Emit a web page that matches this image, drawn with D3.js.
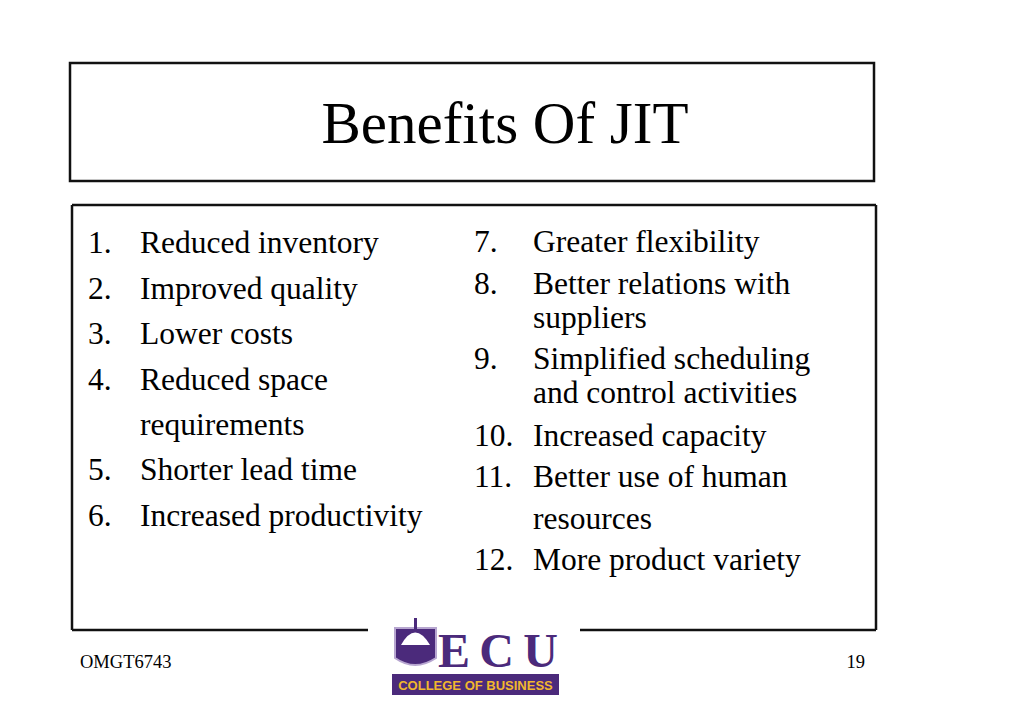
<!DOCTYPE html>
<html><head><meta charset="utf-8">
<script src="https://cdn.jsdelivr.net/npm/d3@7"></script>
<style>body{margin:0;background:#fff}svg{display:block}</style>
</head><body>
<script>
const title = "Benefits Of JIT";
const leftNums = ["1.","2.","3.","4.","","5.","6."];
const leftItems = ["Reduced inventory","Improved quality","Lower costs","Reduced space","requirements","Shorter lead time","Increased productivity"];
const leftY = [243,289,334,380,425,470,516];
const rightNums = ["7.","8.","","9.","","10.","11.","","12."];
const rightItems = ["Greater flexibility","Better relations with","suppliers","Simplified scheduling","and control activities","Increased capacity","Better use of human","resources","More product variety"];
const rightY = [242,284,318,359,393,436,477,519,560];
const footerLeft = "OMGT6743", pageNum = "19";

const svg = d3.select("body").append("svg").attr("width",1024).attr("height",709);
const serif = "'Liberation Serif','Times New Roman',serif";
svg.append("rect").attr("x",70).attr("y",63).attr("width",804).attr("height",118).attr("fill","none").attr("stroke","#111").attr("stroke-width",2.5);
svg.append("text").attr("x",505).attr("y",143).attr("text-anchor","middle").attr("font-family",serif).attr("font-size",59).attr("fill","#000").text(title);
const g = svg.append("g").attr("stroke","#111").attr("stroke-width",2.5).attr("fill","none");
g.append("path").attr("d","M72,205 H876 M72,205 V630 M876,205 V630 M72,630 H368 M580,630 H876");

function list(nums, items, ys, xn, xi){
  const t = svg.append("g").attr("font-family",serif).attr("font-size",31.5).attr("fill","#000");
  t.selectAll(".n").data(nums).join("text").attr("x",xn).attr("y",(d,i)=>ys[i]+10).text(d=>d);
  t.selectAll(".i").data(items).join("text").attr("x",xi).attr("y",(d,i)=>ys[i]+10).text(d=>d);
}
list(leftNums,leftItems,leftY,88,140);
list(rightNums,rightItems,rightY,474,533);

svg.append("text").attr("x",80).attr("y",668).attr("font-family",serif).attr("font-size",18.5).text(footerLeft);
svg.append("text").attr("x",865).attr("y",668).attr("text-anchor","end").attr("font-family",serif).attr("font-size",18.5).text(pageNum);

const purple="#4b2a7b", gold="#f1b82d";
const L = svg.append("g");
L.append("path").attr("d","M395,628 H436 V658 Q415,672 395,658 Z").attr("fill",purple).attr("stroke","#b7a6d0").attr("stroke-width",2);
L.append("path").attr("d","M401,645 Q415,620 430,645 Z").attr("fill","#fff");
L.append("line").attr("x1",415.5).attr("y1",618).attr("x2",415.5).attr("y2",630).attr("stroke",purple).attr("stroke-width",3);
L.append("text").attr("x",438).attr("y",667).attr("font-family",serif).attr("font-weight","bold").attr("font-size",48).attr("fill",purple).attr("textLength",120).text("ECU");
L.append("rect").attr("x",392).attr("y",674).attr("width",167).attr("height",21).attr("fill",purple);
L.append("text").attr("x",475.5).attr("y",690).attr("text-anchor","middle").attr("font-family","'Liberation Sans',Arial,sans-serif").attr("font-weight","bold").attr("font-size",13).attr("fill",gold).text("COLLEGE OF BUSINESS");
</script>
</body></html>
